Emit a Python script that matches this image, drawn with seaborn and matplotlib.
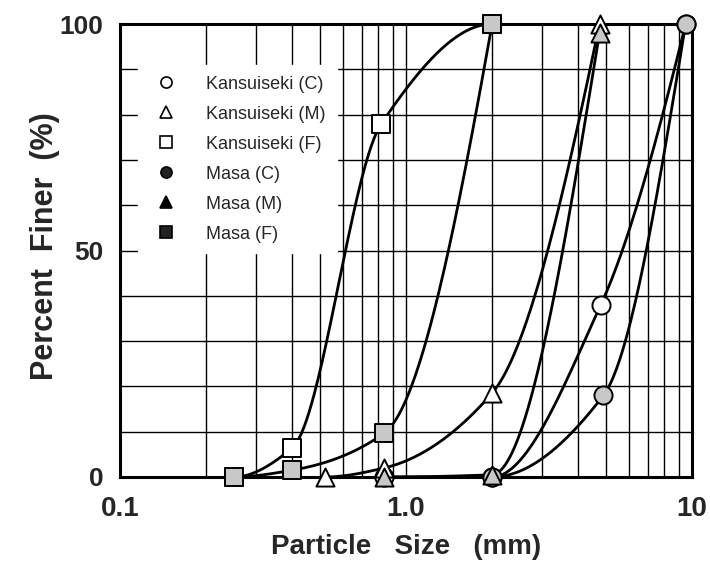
import numpy as np
import pandas as pd
import matplotlib
matplotlib.use("Agg")
import matplotlib.pyplot as plt
from matplotlib.lines import Line2D
import seaborn as sns

# values (particle size in mm, percent finer)
series_names = ["Kansuiseki (C)", "Kansuiseki (M)", "Kansuiseki (F)",
                "Masa (C)", "Masa (M)", "Masa (F)"]
k_c_size = [0.84, 2.0, 4.8, 9.5]
k_c_pct = [0.0, 0.0, 38.0, 100.0]
k_m_size = [0.52, 0.84, 2.0, 4.75]
k_m_pct = [0.0, 2.0, 18.5, 100.0]
k_f_size = [0.25, 0.40, 0.82, 2.0]
k_f_pct = [0.0, 6.4, 78.0, 100.0]
m_c_size = [2.0, 4.9, 9.5]
m_c_pct = [0.0, 18.0, 100.0]
m_m_size = [0.84, 2.0, 4.75]
m_m_pct = [0.0, 0.5, 98.0]
m_f_size = [0.25, 0.40, 0.84, 2.0]
m_f_pct = [0.0, 1.5, 9.7, 100.0]

x_ticks = [0.1, 1.0, 10]
x_ticklabels = ["0.1", "1.0", "10"]
y_ticks = [0, 50, 100]
y_ticklabels = ["0", "50", "100"]


def pchip(x, y, xs):
    # monotone cubic through the read points (Fritsch-Carlson)
    x = np.asarray(x, float)
    y = np.asarray(y, float)
    h = np.diff(x)
    d = np.diff(y) / h
    n = len(x)
    m = np.zeros(n)
    if n == 2:
        m[:] = d[0]
    else:
        for k in range(1, n - 1):
            if d[k - 1] * d[k] > 0:
                w1 = 2 * h[k] + h[k - 1]
                w2 = h[k] + 2 * h[k - 1]
                m[k] = (w1 + w2) / (w1 / d[k - 1] + w2 / d[k])
        def end(h0, h1, d0, d1):
            v = ((2 * h0 + h1) * d0 - h0 * d1) / (h0 + h1)
            if np.sign(v) != np.sign(d0):
                return 0.0
            if np.sign(d0) != np.sign(d1) and abs(v) > abs(3 * d0):
                return 3 * d0
            return v
        m[0] = end(h[0], h[1], d[0], d[1])
        m[-1] = end(h[-1], h[-2], d[-1], d[-2])
    idx = np.clip(np.searchsorted(x, xs) - 1, 0, n - 2)
    t = (xs - x[idx]) / h[idx]
    h00 = 2 * t**3 - 3 * t**2 + 1
    h10 = t**3 - 2 * t**2 + t
    h01 = -2 * t**3 + 3 * t**2
    h11 = t**3 - t**2
    return h00 * y[idx] + h10 * h[idx] * m[idx] + h01 * y[idx + 1] + h11 * h[idx] * m[idx + 1]


sizes = [k_c_size, k_m_size, k_f_size, m_c_size, m_m_size, m_f_size]
pcts = [k_c_pct, k_m_pct, k_f_pct, m_c_pct, m_m_pct, m_f_pct]

points = pd.concat([pd.DataFrame({"size": s, "pct": p, "series": name})
                    for name, s, p in zip(series_names, sizes, pcts)], ignore_index=True)

curves = []
for name, s, p in zip(series_names, sizes, pcts):
    lx = np.log10(s)
    xs = np.linspace(lx[0], lx[-1], 200)
    curves.append(pd.DataFrame({"size": 10**xs, "pct": pchip(lx, p, xs), "series": name}))
curves = pd.concat(curves, ignore_index=True)

sns.set_style("white")
plt.rcParams["font.family"] = ["Liberation Sans", "DejaVu Sans"]

fig = plt.figure(figsize=(7.1, 5.75), dpi=100)
ax = fig.add_axes([120 / 710, 1 - 477 / 575, 572 / 710, 453 / 575])

ax.set_xscale("log")
ax.set_xlim(0.1, 10)
ax.set_ylim(0, 100)

# grid: log minors on x, every 10 % on y
for v in [a * b for b in (0.1, 1.0) for a in range(2, 10)] + [1.0]:
    ax.axvline(v, color="black", lw=1.0, zorder=1)
for v in range(10, 100, 10):
    ax.axhline(v, color="black", lw=1.0, zorder=1)

sns.lineplot(data=curves, x="size", y="pct", hue="series", palette=["black"] * 6,
             lw=2.0, legend=False, ax=ax, zorder=3, sort=False, estimator=None)

marker_map = {"Kansuiseki (C)": "o", "Kansuiseki (M)": "^", "Kansuiseki (F)": "s",
              "Masa (C)": "o", "Masa (M)": "^", "Masa (F)": "s"}
face_map = {"Kansuiseki (C)": "white", "Kansuiseki (M)": "white", "Kansuiseki (F)": "white",
            "Masa (C)": "#c8c8c8", "Masa (M)": "#c8c8c8", "Masa (F)": "#c8c8c8"}
for name in series_names:
    sub = points[points["series"] == name]
    sns.scatterplot(data=sub, x="size", y="pct", marker=marker_map[name], s=170,
                    facecolor=face_map[name], edgecolor="black", linewidth=1.4,
                    ax=ax, zorder=5, clip_on=False, legend=False)

for sp in ax.spines.values():
    sp.set_linewidth(2.2)
    sp.set_color("black")

ax.set_xticks(x_ticks)
ax.set_xticklabels(x_ticklabels)
ax.set_xticks([], minor=True)
ax.set_yticks(y_ticks)
ax.set_yticklabels(y_ticklabels)
ax.tick_params(axis="x", length=0, labelsize=20, pad=14)
ax.tick_params(axis="y", length=0, labelsize=19, pad=12)
for lab in ax.get_xticklabels() + ax.get_yticklabels():
    lab.set_fontweight("bold")

ax.set_xlabel("Particle   Size   (mm)", fontsize=20, fontweight="bold")
ax.set_ylabel("Percent  Finer  (%)", fontsize=22, fontweight="bold")
ax.xaxis.set_label_coords(0.5, -0.125)
ax.yaxis.set_label_coords(-0.105, 0.51)

handles = [
    Line2D([], [], ls="none", marker="o", ms=8, mfc="white", mec="black", mew=1.2),
    Line2D([], [], ls="none", marker="^", ms=8, mfc="white", mec="black", mew=1.2),
    Line2D([], [], ls="none", marker="s", ms=8, mfc="white", mec="black", mew=1.2),
    Line2D([], [], ls="none", marker="o", ms=8, mfc="#222222", mec="black", mew=1.2),
    Line2D([], [], ls="none", marker="^", ms=8, mfc="black", mec="black", mew=1.2),
    Line2D([], [], ls="none", marker="s", ms=8, mfc="#222222", mec="black", mew=1.2),
]
leg = ax.legend(handles, series_names, loc="upper left", bbox_to_anchor=(0.015, 0.93),
                fontsize=13, frameon=True, facecolor="white", edgecolor="white",
                framealpha=1, labelspacing=0.72, handletextpad=1.2, borderpad=0.6)
leg.set_zorder(2)

fig.savefig("out.png", dpi=100)
